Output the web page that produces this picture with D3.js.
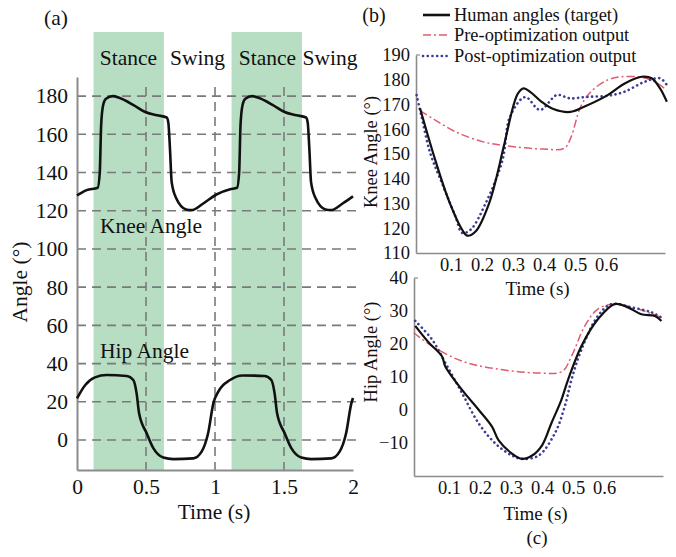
<!DOCTYPE html>
<html><head><meta charset="utf-8">
<script src="https://cdn.jsdelivr.net/npm/d3@7"></script>
<style>
body{margin:0;background:#fff;}
svg{display:block;font-family:"Liberation Serif","Times New Roman",serif;}
</style></head>
<body><svg id="c" width="676" height="557"></svg>
<script>
// ---------- Data ----------
// Panel (a): gait cycle over 2 s
const gaitTime = [0,0.07,0.15,0.165,0.175,0.19,0.21,0.26,0.31,0.41,0.49,0.58,0.65,0.662,0.674,0.686,0.72,0.79,0.83,0.915,1.01,1.11,1.16,1.175,1.185,1.2,1.22,1.27,1.32,1.42,1.5,1.59,1.66,1.672,1.684,1.696,1.73,1.8,1.84,1.925,2.0];
const gaitKnee = [128,130.8,132,140,165,175.5,178.6,180,179,175.3,171.8,170,168.8,166,152,135,126.4,120.7,120.3,123.8,128.5,131.2,132,140,165,175.5,178.6,180,179,175.3,171.8,170,168.8,166,152,135,126.4,120.7,120.3,123.8,127.5];
const hipTime = [0,0.06,0.13,0.215,0.36,0.408,0.432,0.45,0.505,0.553,0.625,0.698,0.843,0.903,0.95,0.988,1.024,1.109,1.2,1.36,1.408,1.432,1.45,1.505,1.553,1.625,1.698,1.843,1.903,1.95,1.988,2.0];
const gaitHip = [21.8,28.8,32.8,34,33.5,31.4,24.4,14,3.5,-4.3,-9.2,-10,-9.6,-6.1,3.5,19.2,25.3,31.4,33.8,33.5,31.4,24.4,14,3.5,-4.3,-9.2,-10,-9.6,-6.1,3.5,19.2,22];
const stanceBands = [[0.12,0.63],[1.12,1.63]];
const phaseLabels = ["Stance","Swing","Stance","Swing"];
const aYTicks = [0,20,40,60,80,100,120,140,160,180];
const aXTicks = [0,0.5,1,1.5,2];
const aXTickLabels = ["0","0.5","1","1.5","2"];

// Panel (b): knee angle
const kneeHumanT = [0,0.049,0.092,0.136,0.152,0.179,0.223,0.27,0.3,0.316,0.334,0.356,0.39,0.43,0.485,0.529,0.605,0.66,0.714,0.747,0.774,0.796];
const kneeHumanV = [168.5,147.6,131.5,119.4,117,118.7,130.2,153,169,174.5,176.5,175,171.3,168.2,167,169.1,173.8,178.5,181.2,180.6,176.5,171.1];
const kneePreT = [0,0.049,0.114,0.201,0.277,0.397,0.465,0.486,0.518,0.551,0.605,0.649,0.714,0.757,0.796];
const kneePreV = [167.5,163.7,159,155,153.3,152,152.3,156.5,169.1,175.2,179.9,181.2,181,179.2,175.8];
const kneePostT = [-0.011,0.005,0.033,0.071,0.114,0.136,0.163,0.212,0.266,0.29,0.339,0.387,0.441,0.484,0.54,0.605,0.66,0.725,0.774,0.796];
const kneePostV = [173.8,165,150.3,138.2,124.8,118.1,119.4,130.2,147.6,165,173,167.8,173.8,172.5,173.1,173.5,175.2,179.2,180.6,177.9];
const bKneeTicks = [110,120,130,140,150,160,170,180,190];
const bTimeTicks = [0.1,0.2,0.3,0.4,0.5,0.6];

// Panel (c): hip angle
const hipHumanT = [-0.009,0.035,0.077,0.088,0.142,0.196,0.239,0.26,0.303,0.335,0.368,0.4,0.43,0.462,0.484,0.527,0.58,0.634,0.677,0.72,0.764,0.785];
const hipHumanV = [25.5,20.4,16.3,13.2,6.1,0,-5.1,-9.2,-13.2,-14.8,-13.8,-10.7,-4,3,9.2,19.4,27.5,32.1,31.1,29,28.5,27];
const hipPreT = [-0.014,0.045,0.142,0.25,0.389,0.465,0.495,0.538,0.58,0.634,0.71,0.785];
const hipPreV = [23.4,19.4,14.8,12.5,11.2,11.7,16.3,25.5,30.6,32.1,30.6,28];
const hipPostT = [-0.009,0.045,0.088,0.142,0.196,0.25,0.303,0.335,0.389,0.441,0.473,0.495,0.527,0.58,0.624,0.688,0.753,0.785];
const hipPostV = [27,21.4,14.3,5.1,-4.1,-10.2,-13.8,-14.8,-13.8,-7.1,1,9.2,18.3,28.5,32.1,31.1,29.6,28];
const cHipTicks = [-10,0,10,20,30,40];

const legendLabels = ["Human angles (target)","Pre-optimization output","Post-optimization output"];

// ---------- Drawing ----------
const svg = d3.select("#c");
const GRID = "#7a7a7a", AXIS = "#8c8c8c";
const RED = "#df5c70", BLUE = "#3a3d92";

// ----- Panel (a) -----
const xA = d3.scaleLinear().domain([0,2]).range([77,353]);
const yA = d3.scaleLinear().domain([-15.7,190]).range([470,77]);
const gA = svg.append("g");

gA.selectAll("rect.band").data(stanceBands).enter().append("rect")
  .attr("x", d=>xA(d[0])).attr("width", d=>xA(d[1])-xA(d[0]))
  .attr("y", 32).attr("height", 470-32)
  .attr("fill","#b7dec3");

// grid
gA.selectAll("line.hg").data(aYTicks).enter().append("line")
  .attr("x1", xA(0)).attr("x2", xA(2)+3)
  .attr("y1", d=>yA(d)).attr("y2", d=>yA(d))
  .attr("stroke",GRID).attr("stroke-width",1.6).attr("stroke-dasharray","9,6");
gA.selectAll("line.vg").data([0.5,1,1.5]).enter().append("line")
  .attr("x1", d=>xA(d)).attr("x2", d=>xA(d))
  .attr("y1", 87).attr("y2", yA.range()[0])
  .attr("stroke",GRID).attr("stroke-width",1.6).attr("stroke-dasharray","9,6");

// axes
const axAL = gA.append("g").attr("transform",`translate(${xA(0)},0)`)
  .call(d3.axisLeft(yA).tickValues(aYTicks).tickSize(0).tickPadding(9).tickSizeOuter(0));
const axAB = gA.append("g").attr("transform",`translate(0,${yA.range()[0]})`)
  .call(d3.axisBottom(xA).tickValues(aXTicks).tickFormat((d,i)=>aXTickLabels[i]).tickSize(0).tickPadding(9).tickSizeOuter(0));
[axAL,axAB].forEach(a=>{
  a.select(".domain").attr("stroke",AXIS).attr("stroke-width",2);
  a.selectAll("text").attr("font-size",21.5).attr("font-family","Liberation Serif").attr("fill","#111");
});

const lineA = d3.line().curve(d3.curveMonotoneX);
gA.append("path").attr("d", lineA(gaitTime.map((t,i)=>[xA(t),yA(gaitKnee[i])])))
  .attr("fill","none").attr("stroke","#111").attr("stroke-width",2.6);
gA.append("path").attr("d", lineA(hipTime.map((t,i)=>[xA(t),yA(gaitHip[i])])))
  .attr("fill","none").attr("stroke","#111").attr("stroke-width",2.6);

const phaseX = [128.5,197.5,267.5,330];
gA.selectAll("text.phase").data(phaseLabels).enter().append("text")
  .attr("x",(d,i)=>phaseX[i]).attr("y",57).attr("dy","0.35em")
  .attr("text-anchor","middle").attr("font-size",21.5).attr("fill","#111").text(d=>d);
gA.append("text").attr("x",100).attr("y",225).attr("dy","0.35em").attr("font-size",21.5).attr("fill","#111").text("Knee Angle");
gA.append("text").attr("x",100).attr("y",350).attr("dy","0.35em").attr("font-size",21.5).attr("fill","#111").text("Hip Angle");
gA.append("text").attr("x",56).attr("y",17).attr("dy","0.35em").attr("text-anchor","middle").attr("font-size",21.5).attr("fill","#111").text("(a)");
gA.append("text").attr("x",214).attr("y",511).attr("dy","0.35em").attr("text-anchor","middle").attr("font-size",21.5).attr("fill","#111").text("Time (s)");
gA.append("text").attr("transform","translate(19,282) rotate(-90)").attr("dy","0.35em").attr("text-anchor","middle").attr("font-size",21.5).attr("fill","#111").text("Angle (°)");

// ----- Panel (b) and (c) helper -----
function subPanel(xr, yDomain, yr, yTicks, series, ylab, ylabX, ylabY, xlabY, tickPadY){
  const x = d3.scaleLinear().domain([-0.013,0.79]).range(xr);
  const y = d3.scaleLinear().domain(yDomain).range(yr);
  const g = svg.append("g");
  const ax1 = g.append("g").attr("transform",`translate(${xr[0]},0)`)
    .call(d3.axisLeft(y).tickValues(yTicks).tickFormat(d=>d<0?"\u2212"+Math.abs(d):d).tickSize(0).tickPadding(tickPadY).tickSizeOuter(0));
  const ax2 = g.append("g").attr("transform",`translate(0,${yr[0]})`)
    .call(d3.axisBottom(x).tickValues(bTimeTicks).tickSize(0).tickPadding(5).tickSizeOuter(0));
  [ax1,ax2].forEach(a=>{
    a.select(".domain").attr("stroke",AXIS).attr("stroke-width",1.6);
    a.selectAll("text").attr("font-size",18.5).attr("font-family","Liberation Serif").attr("fill","#111");
  });
  g.append("line").attr("x1",xr[0]).attr("x2",xr[0]+4).attr("y1",yr[1]).attr("y2",yr[1]).attr("stroke",AXIS).attr("stroke-width",1.2);
  const ln = d3.line().curve(d3.curveCatmullRom.alpha(0.5));
  series.forEach(s=>{
    g.append("path").attr("d", ln(s.t.map((t,i)=>[x(t),y(s.v[i])])))
      .attr("fill","none").attr("stroke",s.color).attr("stroke-width",s.w)
      .attr("stroke-dasharray",s.dash).attr("stroke-linecap",s.cap);
  });
  g.append("text").attr("transform",`translate(${ylabX},${ylabY}) rotate(-90)`)
    .attr("dy","0.35em").attr("text-anchor","middle").attr("font-size",18.5).attr("fill","#111").text(ylab);
  g.append("text").attr("x",(xr[0]+xr[1])/2 - 3).attr("y",xlabY).attr("dy","0.35em")
    .attr("text-anchor","middle").attr("font-size",19).attr("fill","#111").text("Time (s)");
}
const styles = [
  {color:"#111", w:2.2, dash:null, cap:"butt"},
  {color:RED, w:1.5, dash:"8,3,2,3", cap:"butt"},
  {color:BLUE, w:2.6, dash:"0.1,4.6", cap:"round"}
];
subPanel([416,665],[110,190],[253,55],bKneeTicks,[
  Object.assign({t:kneePreT,v:kneePreV},styles[1]),
  Object.assign({t:kneePostT,v:kneePostV},styles[2]),
  Object.assign({t:kneeHumanT,v:kneeHumanV},styles[0])
],"Knee Angle (°)",371,152,288,6);
subPanel([414,663],[-20,40],[476,278],cHipTicks,[
  Object.assign({t:hipPreT,v:hipPreV},styles[1]),
  Object.assign({t:hipPostT,v:hipPostV},styles[2]),
  Object.assign({t:hipHumanT,v:hipHumanV},styles[0])
],"Hip Angle (°)",371,352,513,6);

// legend
const legY = [15,35,56];
const lg = svg.append("g");
legendLabels.forEach((lab,i)=>{
  const s = styles[i];
  lg.append("line").attr("x1",423).attr("x2",450).attr("y1",legY[i]).attr("y2",legY[i])
    .attr("stroke",s.color).attr("stroke-width",i==0?2.6:s.w).attr("stroke-dasharray",s.dash).attr("stroke-linecap",s.cap);
  lg.append("text").attr("x",454).attr("y",legY[i]).attr("dy","0.35em").attr("font-size",18.4).attr("fill","#111").text(lab);
});
svg.append("text").attr("x",374).attr("y",15).attr("dy","0.35em").attr("text-anchor","middle").attr("font-size",20).attr("fill","#111").text("(b)");
svg.append("text").attr("x",537).attr("y",537).attr("dy","0.35em").attr("text-anchor","middle").attr("font-size",19).attr("fill","#111").text("(c)");
</script></body></html>
